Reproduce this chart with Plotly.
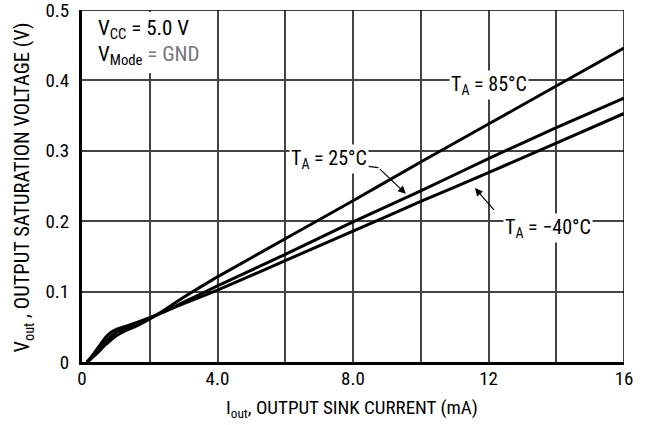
import plotly.graph_objects as go

# Data
iout = [0.15, 0.3, 0.5, 0.7, 0.85, 1.0, 1.3, 1.6, 2.0, 2.5, 3.0, 4.0, 6.0, 8.0, 10.0, 12.0, 14.0, 16.0]
v_85 = [0.0, 0.006, 0.015, 0.025, 0.031, 0.037, 0.045, 0.051, 0.061, 0.076, 0.092, 0.121, 0.175, 0.229, 0.284, 0.338, 0.392, 0.446]
v_25 = [0.0, 0.007, 0.018, 0.029, 0.036, 0.042, 0.049, 0.054, 0.062, 0.073, 0.085, 0.108, 0.153, 0.199, 0.243, 0.289, 0.333, 0.375]
v_m40 = [0.0, 0.009, 0.022, 0.035, 0.042, 0.046, 0.051, 0.056, 0.063, 0.073, 0.083, 0.102, 0.144, 0.186, 0.228, 0.269, 0.311, 0.353]

x_ticks = [0, 2, 4, 6, 8, 10, 12, 14, 16]
x_labels = ["0", "", "4.0", "", "8.0", "", "12", "", "16"]
y_ticks = [0, 0.1, 0.2, 0.3, 0.4, 0.5]
y_labels = ["0", "0.1", "0.2", "0.3", "0.4", "0.5"]

FONT = "Roboto Condensed, Liberation Sans Narrow, Arial Narrow, sans-serif"

fig = go.Figure()
for name, ys in [("85", v_85), ("25", v_25), ("-40", v_m40)]:
    fig.add_trace(go.Scatter(x=iout, y=ys, mode="lines", name=name,
                             line=dict(color="black", width=3, shape="spline", smoothing=0.3),
                             showlegend=False, hoverinfo="skip"))

fig.update_layout(
    width=653, height=425,
    margin=dict(l=82, r=29, t=10, b=63),
    paper_bgcolor="white", plot_bgcolor="white",
    font=dict(family=FONT, size=19, color="black"),
    xaxis=dict(range=[0, 16], tickvals=x_ticks, ticktext=x_labels,
               showgrid=True, gridcolor="#444", gridwidth=1.5,
               showline=True, linecolor="black", linewidth=3,
               zeroline=False, ticks="", ticklen=0, automargin=False,
               ticklabelstandoff=-3, ticklabeloverflow="allow",
               tickfont=dict(family=FONT, size=19)),
    yaxis=dict(range=[0, 0.5], tickvals=y_ticks, ticktext=y_labels,
               showgrid=True, gridcolor="#444", gridwidth=1.5,
               showline=True, linecolor="black", linewidth=3,
               zeroline=False, ticks="", ticklen=0, automargin=False,
               ticklabelstandoff=6, ticklabeloverflow="allow",
               tickfont=dict(family=FONT, size=19)),
)

# axis titles
fig.add_annotation(x=0.498, y=-0.131, xref="paper", yref="paper", showarrow=False,
                   xanchor="center", yanchor="middle",
                   text="I<sub>out</sub>, OUTPUT SINK CURRENT (mA)",
                   font=dict(family=FONT, size=19))
fig.add_annotation(x=-0.108, y=0.497, xref="paper", yref="paper", showarrow=False,
                   xanchor="center", yanchor="middle", textangle=-90,
                   text="V<sub>out</sub> , OUTPUT SATURATION VOLTAGE (V)",
                   font=dict(family=FONT, size=20.5))

# thin top/right border
fig.add_shape(type="line", xref="x", yref="y", x0=0, x1=16, y0=0.5, y1=0.5,
              line=dict(color="black", width=1.5))
fig.add_shape(type="line", xref="x", yref="y", x0=16, x1=16, y0=0, y1=0.5,
              line=dict(color="black", width=1.5))
# white box behind conditions text
fig.add_shape(type="rect", xref="x", yref="y", x0=0.05, x1=3.85, y0=0.41, y1=0.497,
              fillcolor="white", line=dict(width=0), layer="between")

fig.add_annotation(x=0.42, y=0.472, xref="x", yref="y", xanchor="left", showarrow=False,
                   text="V<sub>CC</sub> = 5.0 V", font=dict(family=FONT, size=21))
fig.add_annotation(x=0.42, y=0.436, xref="x", yref="y", xanchor="left", showarrow=False,
                   text="V<sub>Mode</sub> <span style='color:#777'>= GND</span>",
                   font=dict(family=FONT, size=21))

# curve labels
fig.add_annotation(x=12.0, y=0.394, xref="x", yref="y", showarrow=False,
                   text="T<sub>A</sub> = 85°C", bgcolor="white",
                   font=dict(family=FONT, size=20))
fig.add_annotation(x=7.3, y=0.288, xref="x", yref="y", showarrow=False,
                   text="T<sub>A</sub> = 25°C", bgcolor="white",
                   font=dict(family=FONT, size=20))
fig.add_annotation(x=13.75, y=0.190, xref="x", yref="y", showarrow=False,
                   text="T<sub>A</sub> = −40°C", bgcolor="white",
                   font=dict(family=FONT, size=20))

# leader arrows
fig.add_shape(type="line", xref="x", yref="y", x0=8.45, x1=8.75, y0=0.278, y1=0.276,
              line=dict(color="black", width=1.2))
fig.add_annotation(x=9.56, y=0.239, ax=8.75, ay=0.276, xref="x", yref="y",
                   axref="x", ayref="y", text="", showarrow=True,
                   arrowhead=2, arrowsize=1.3, arrowwidth=1.2, arrowcolor="black")
fig.add_annotation(x=11.6, y=0.247, ax=12.2, ay=0.214, xref="x", yref="y",
                   axref="x", ayref="y", text="", showarrow=True,
                   arrowhead=2, arrowsize=1.3, arrowwidth=1.2, arrowcolor="black")

# remove the page's default body margin so the figure fills the window exactly
fig.write_html("out.html", config={"displayModeBar": False},
               post_script="document.body.style.margin='0';document.body.style.overflow='hidden';")
